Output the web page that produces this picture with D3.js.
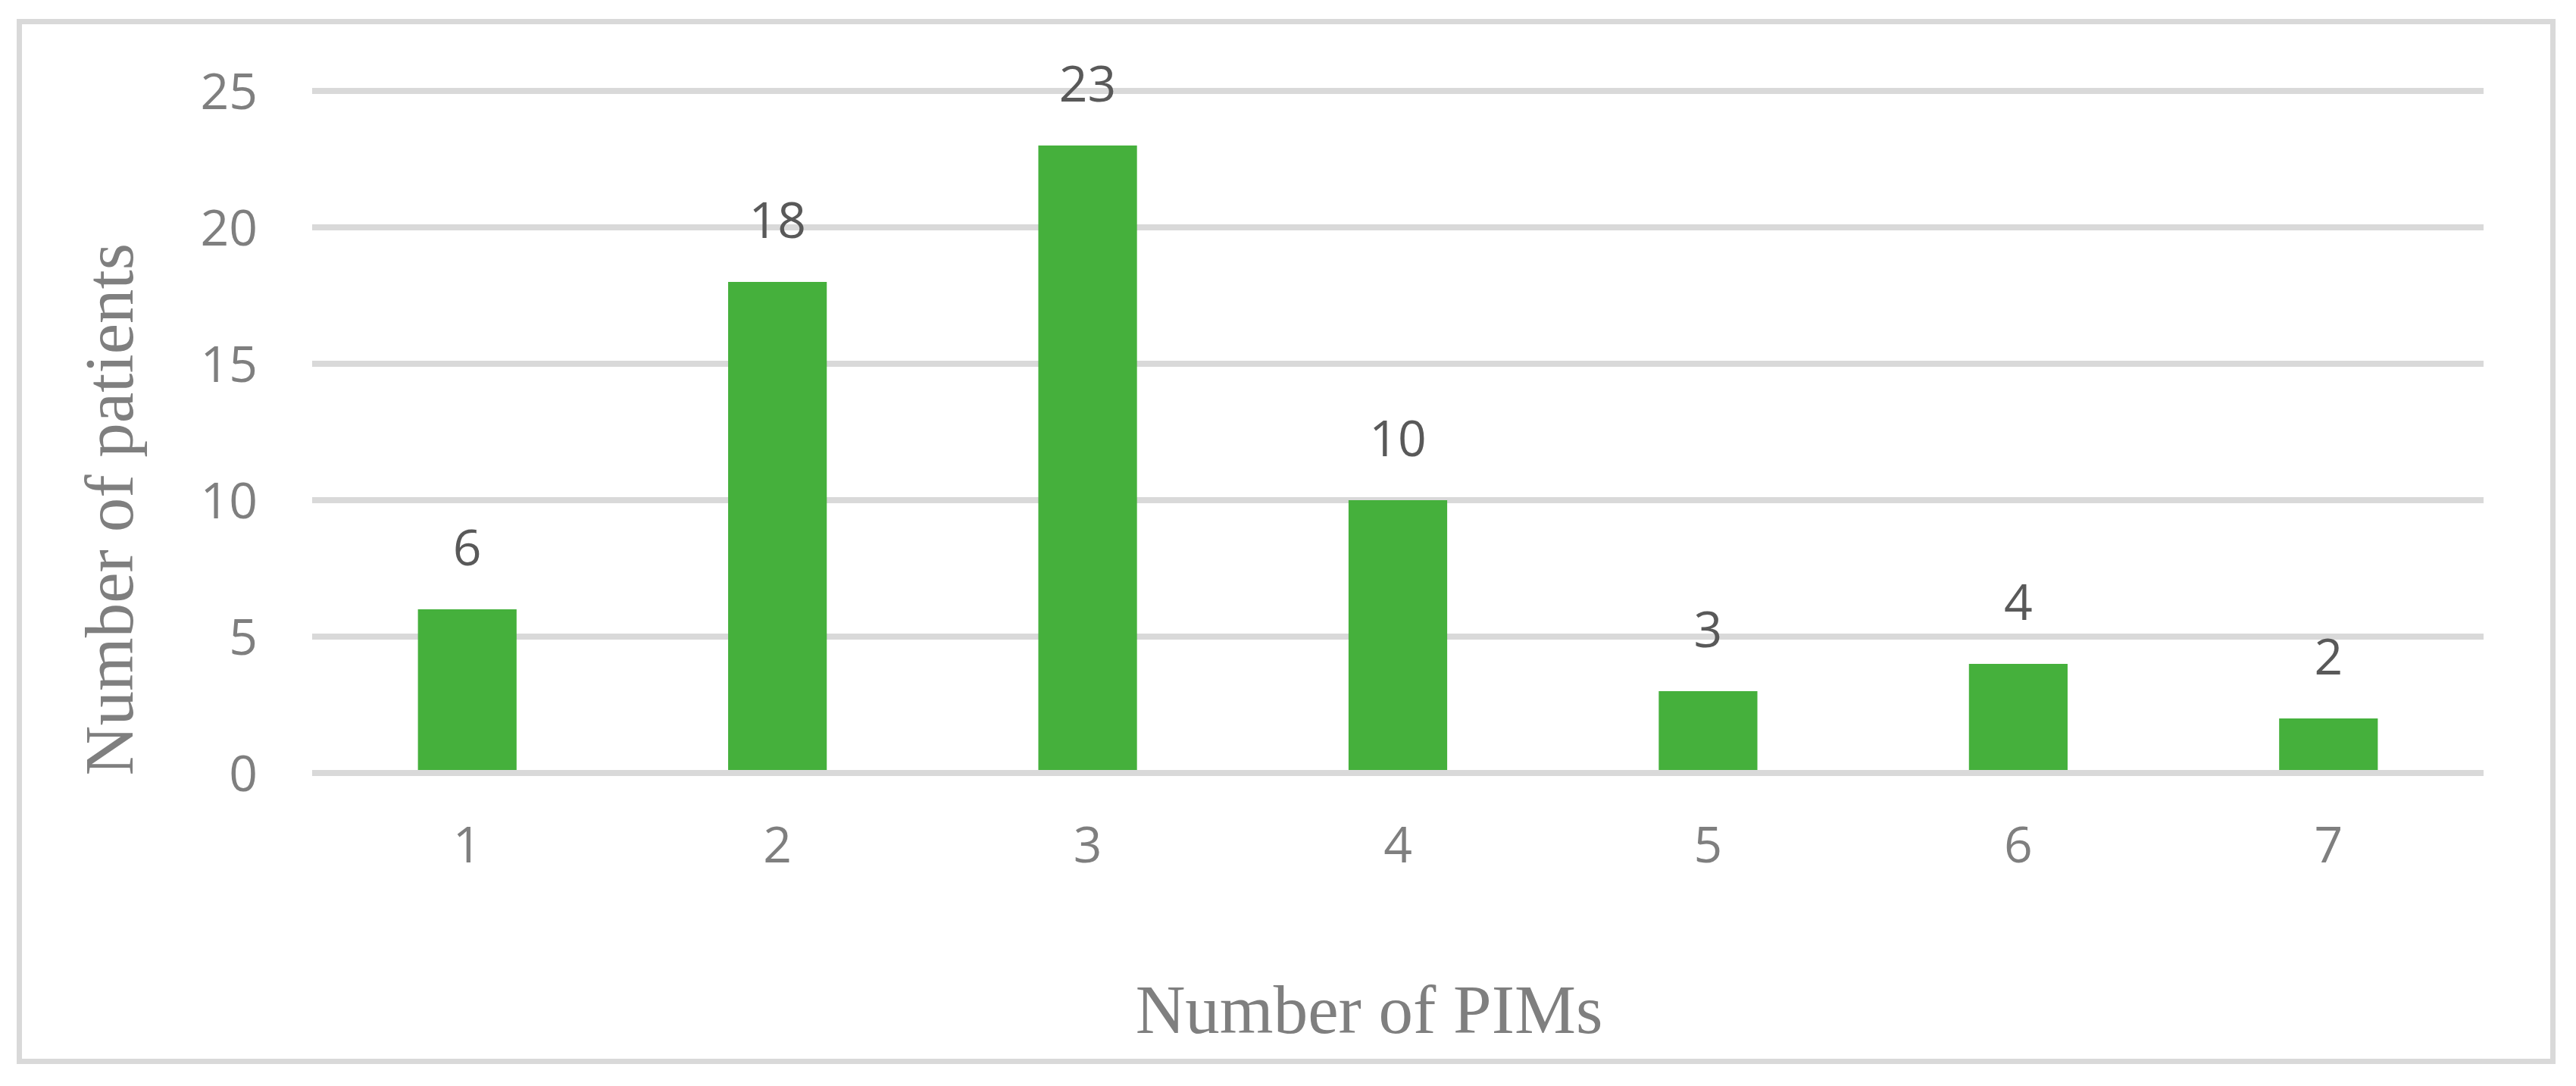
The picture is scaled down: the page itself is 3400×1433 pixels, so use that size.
<!DOCTYPE html>
<html>
<head>
<meta charset="utf-8">
<script src="https://cdn.jsdelivr.net/npm/d3@7"></script>
<style>
  body { margin: 0; background: #fff; }
  svg { display: block; }
</style>
</head>
<body>
<script>
// chart data
var categories = ["1", "2", "3", "4", "5", "6", "7"];
var patients = [6, 18, 23, 10, 3, 4, 2];
var yTicks = [0, 5, 10, 15, 20, 25];
var xTitle = "Number of PIMs";
var yTitle = "Number of patients";

var width = 3400,
    height = 1433,
    plot = { left: 412, right: 3278, top: 120, bottom: 1020 };

var svg = d3.select("body").append("svg")
    .attr("width", width)
    .attr("height", height);

// outer frame
svg.append("rect")
    .attr("x", 25.5)
    .attr("y", 28.5)
    .attr("width", 3344)
    .attr("height", 1372)
    .attr("fill", "#fff")
    .attr("stroke", "#d9d9d9")
    .attr("stroke-width", 7);

var x = d3.scaleBand()
    .domain(categories)
    .range([plot.left, plot.right])
    .paddingInner(0.682)
    .paddingOuter(0.341);

var y = d3.scaleLinear()
    .domain([0, 25])
    .range([plot.bottom, plot.top]);

/** gridlines behind the bars **/
svg.append("g")
    .selectAll("line")
    .data(yTicks)
    .join("line")
    .attr("x1", plot.left)
    .attr("x2", plot.right)
    .attr("y1", function (d) { return y(d); })
    .attr("y2", function (d) { return y(d); })
    .attr("stroke", "#d9d9d9")
    .attr("stroke-width", 8);

/** y axis labels **/
var yAxis = d3.axisLeft(y).tickValues(yTicks).tickSize(0).tickPadding(72);
svg.append("g")
    .attr("transform", "translate(" + plot.left + ",0)")
    .call(yAxis)
    .call(function (g) { g.select(".domain").remove(); })
    .selectAll("text")
    .attr("font-family", "'Open Sans', sans-serif")
    .attr("font-size", 66)
    .attr("fill", "#7f7f7f")
    .attr("dy", "0.36em");

/** bars **/
svg.append("g")
    .selectAll("rect")
    .data(patients)
    .join("rect")
    .attr("x", function (d, i) { return x(categories[i]); })
    .attr("y", function (d) { return y(d); })
    .attr("width", x.bandwidth())
    .attr("height", function (d) { return y(0) - 4 - y(d); })
    .attr("fill", "#45b03c");

/** value labels **/
svg.append("g")
    .selectAll("text")
    .data(patients)
    .join("text")
    .attr("x", function (d, i) { return x(categories[i]) + x.bandwidth() / 2; })
    .attr("y", function (d) { return y(d) - 58; })
    .attr("text-anchor", "middle")
    .attr("font-family", "'Open Sans', sans-serif")
    .attr("font-size", 66)
    .attr("fill", "#595959")
    .text(function (d) { return d; });

/** x axis labels **/
var xAxis = d3.axisBottom(x).tickSize(0).tickPadding(0);
svg.append("g")
    .attr("transform", "translate(0," + plot.bottom + ")")
    .call(xAxis)
    .call(function (g) { g.select(".domain").remove(); })
    .selectAll("text")
    .attr("font-family", "'Open Sans', sans-serif")
    .attr("font-size", 66)
    .attr("fill", "#7f7f7f")
    .attr("dy", null)
    .attr("y", 118);

/** axis titles **/
svg.append("text")
    .attr("x", 1807)
    .attr("y", 1363)
    .attr("text-anchor", "middle")
    .attr("font-family", "'Liberation Serif', serif")
    .attr("font-size", 91)
    .attr("fill", "#7f7f7f")
    .text(xTitle);

svg.append("text")
    .attr("transform", "translate(175,672) rotate(-90)")
    .attr("text-anchor", "middle")
    .attr("font-family", "'Liberation Serif', serif")
    .attr("font-size", 91)
    .attr("fill", "#7f7f7f")
    .text(yTitle);
</script>
</body>
</html>
